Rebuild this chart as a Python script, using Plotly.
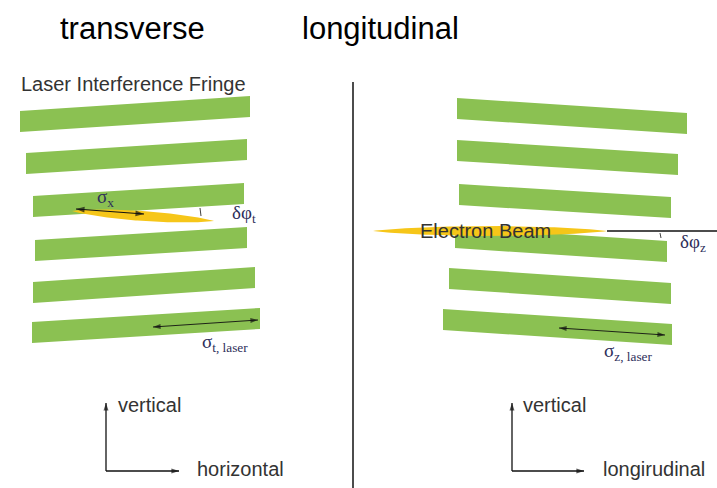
import numpy as np
import plotly.graph_objects as go

# ---- data (pixel-space diagram coordinates) ----
left_fringe_xl = [20, 26, 33, 35, 33, 32]
left_fringe_xr = [250, 247, 244, 247, 255, 260]
left_fringe_ytl = [111, 153, 196, 240, 282, 322]
left_fringe_ytr = [96, 139, 183, 227, 267, 308]

right_fringe_xl = [457, 457, 459, 455, 449, 443]
right_fringe_xr = [687, 678, 671, 667, 671, 672]
right_fringe_ytl = [98, 140, 184, 227, 268, 309]
right_fringe_ytr = [113, 154, 197, 241, 283, 324]
fringe_thick = 21

# beams: (x start, y start, x end, y end, half thickness)
left_beam = [72, 211, 214, 221, 5]
right_beam = [373, 231, 607, 231, 5]

GREEN = "#8bc152"
YELLOW = "#f6c619"
TXT = "#333333"
SIG = "#2e2e5a"

fig = go.Figure()

def fringe(xl, xr, ytl, ytr):
    xs = [xl, xr, xr, xl, xl]
    ys = [ytl, ytr, ytr + fringe_thick, ytl + fringe_thick, ytl]
    fig.add_trace(go.Scatter(x=xs, y=ys, mode="lines", fill="toself",
                             fillcolor=GREEN, line=dict(width=0, color=GREEN),
                             hoverinfo="skip", showlegend=False))

for i in range(6):
    fringe(left_fringe_xl[i], left_fringe_xr[i], left_fringe_ytl[i], left_fringe_ytr[i])
    fringe(right_fringe_xl[i], right_fringe_xr[i], right_fringe_ytl[i], right_fringe_ytr[i])

def beam(b):
    x0, y0, x1, y1, h = b
    t = np.linspace(-1, 1, 81)
    cx, cy = (x0 + x1) / 2, (y0 + y1) / 2
    L = np.hypot(x1 - x0, y1 - y0) / 2
    ang = np.arctan2(y1 - y0, x1 - x0)
    w = h * (1 - t ** 2) ** 0.8
    u = np.concatenate([t * L, t[::-1] * L])
    v = np.concatenate([w, -w[::-1]])
    xs = cx + u * np.cos(ang) - v * np.sin(ang)
    ys = cy + u * np.sin(ang) + v * np.cos(ang)
    fig.add_trace(go.Scatter(x=xs, y=ys, mode="lines", fill="toself",
                             fillcolor=YELLOW, line=dict(width=0, color=YELLOW),
                             hoverinfo="skip", showlegend=False))

beam(left_beam)
beam(right_beam)

def line(xs, ys, w=1.2, color="#111"):
    fig.add_trace(go.Scatter(x=xs, y=ys, mode="lines", line=dict(width=w, color=color),
                             hoverinfo="skip", showlegend=False))

line([353, 353], [82, 488], 1.5)          # divider
line([607, 717], [231, 231], 1.5)         # longitudinal reference line
line([200, 201], [208, 216], 0.8)         # small angle ticks
line([660, 661], [233, 238], 0.8)

def arrow(x0, y0, x1, y1, both=False, w=1.1, size=8):
    fig.add_trace(go.Scatter(x=[x0, x1], y=[y0, y1], mode="lines",
                             line=dict(width=w, color="#111"),
                             hoverinfo="skip", showlegend=False))
    ends = [(x0, y0, x1, y1)]
    if both:
        ends.append((x1, y1, x0, y0))
    for a, b, c, d in ends:
        fig.add_trace(go.Scatter(x=[a, c], y=[b, d], mode="markers",
                                 marker=dict(symbol="arrow", size=[0, size], angleref="previous",
                                             color="#111", line=dict(width=0)),
                                 hoverinfo="skip", showlegend=False))

arrow(106, 471, 106, 403, w=1.3)
arrow(106, 471, 179, 471, w=1.3)
arrow(512, 471, 512, 403, w=1.3)
arrow(512, 471, 584, 471, w=1.3)
arrow(76, 209, 144, 214, both=True, size=9)
arrow(153, 327, 258, 320, both=True, w=0.9, size=8)
arrow(559, 328, 665, 335, both=True, w=0.9, size=8)

def text(x, y, s, size, color=TXT, family="Liberation Sans, Arial, sans-serif", xanchor="left"):
    fig.add_annotation(x=x, y=y, xref="x", yref="y", text=s, showarrow=False,
                       xanchor=xanchor, yanchor="middle",
                       font=dict(size=size, color=color, family=family))

text(132, 28, "transverse", 31, color="#000", xanchor="center")
text(380, 28, "longitudinal", 31, color="#000", xanchor="center")
text(19, 84, "Laser Interference Fringe", 20)
text(418, 231, "Electron Beam", 20)
text(116, 405, "vertical", 20)
text(195, 469, "horizontal", 20)
text(521, 405, "vertical", 20)
text(601, 469, "longirudinal", 20)

SERIF = "Liberation Serif, Times New Roman, serif"
text(95, 198, "σ<sub>x</sub>", 19, color=SIG, family=SERIF)
text(230, 214, "δφ<sub>t</sub>", 19, color=SIG, family=SERIF)
text(200, 343, "σ<sub>t, laser</sub>", 19, color=SIG, family=SERIF)
text(678, 243, "δφ<sub>z</sub>", 19, color=SIG, family=SERIF)
text(602, 352, "σ<sub>z, laser</sub>", 19, color=SIG, family=SERIF)

fig.update_layout(
    width=717, height=488, margin=dict(l=0, r=0, t=0, b=0),
    paper_bgcolor="white", plot_bgcolor="white", showlegend=False,
    xaxis=dict(range=[0, 717], visible=False, fixedrange=True),
    yaxis=dict(range=[488, 0], visible=False, fixedrange=True),
)

fig.write_html("out.html", config={"displayModeBar": False},
               post_script="document.body.style.margin='0px';document.body.style.overflow='hidden';")
